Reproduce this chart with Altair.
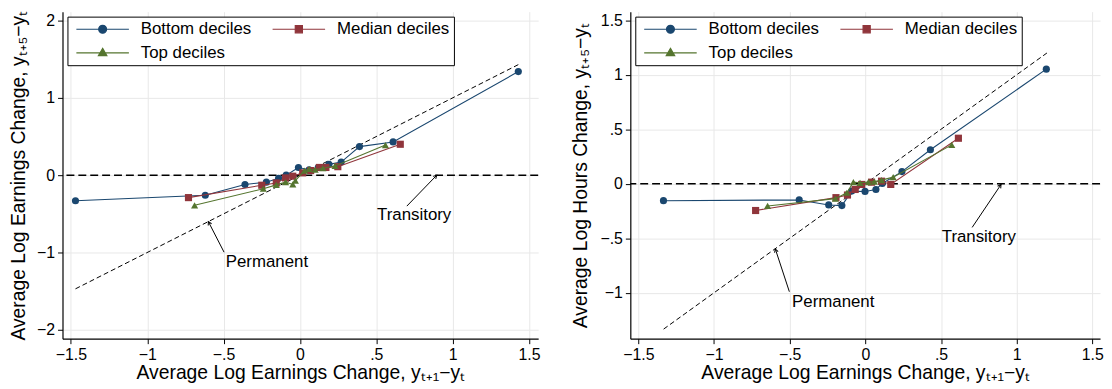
import math
import altair as alt
import pandas as pd

FONT = "Liberation Sans"
series_names = ["Bottom deciles", "Median deciles", "Top deciles"]
series_colors = ["#1a476f", "#90353b", "#55752f"]
series_shapes = ["circle", "square", "triangle-up"]

# ---- Left panel: earnings (x: 1-year change, y: 5-year change)
e_bot_x = [-1.47, -0.62, -0.36, -0.22, -0.14, -0.09, -0.01, 0.06, 0.12, 0.19, 0.27, 0.39, 0.61, 1.43]
e_bot_y = [-0.33, -0.26, -0.12, -0.09, -0.04, 0.00, 0.10, 0.07, 0.10, 0.14, 0.17, 0.37, 0.43, 1.34]
e_med_x = [-0.73, -0.25, -0.155, -0.094, -0.047, 0.018, 0.07, 0.127, 0.17, 0.248, 0.657]
e_med_y = [-0.29, -0.13, -0.10, -0.035, -0.013, 0.03, 0.06, 0.10, 0.10, 0.11, 0.40]
e_top_x = [-0.69, -0.24, -0.155, -0.094, -0.047, -0.03, 0.03, 0.06, 0.10, 0.15, 0.23, 0.56]
e_top_y = [-0.39, -0.175, -0.125, -0.09, -0.12, -0.07, 0.06, 0.08, 0.07, 0.09, 0.12, 0.39]

# ---- Right panel: hours
h_bot_x = [-1.334, -0.437, -0.242, -0.155, -0.09, -0.002, 0.07, 0.112, 0.242, 0.43, 1.196]
h_bot_y = [-0.155, -0.148, -0.194, -0.20, -0.067, -0.07, -0.052, 0.003, 0.112, 0.312, 1.052]
h_med_x = [-0.725, -0.194, -0.118, -0.067, -0.024, 0.041, 0.107, 0.168, 0.615]
h_med_y = [-0.245, -0.127, -0.103, -0.052, -0.006, 0.015, 0.024, -0.006, 0.418]
h_top_x = [-0.646, -0.198, -0.122, -0.079, -0.035, 0.02, 0.06, 0.107, 0.184, 0.571]
h_top_y = [-0.203, -0.136, -0.082, 0.015, 0.009, 0.015, 0.02, 0.034, 0.061, 0.357]

# axis ticks
x_ticks = [-1.5, -1, -0.5, 0, 0.5, 1, 1.5]
e_y_ticks = [-2, -1, 0, 1, 2]
h_y_ticks = [-1, -0.5, 0, 0.5, 1, 1.5]

# 45-degree (permanent) line extents
e_diag = [-1.47, 1.43]
h_diag = [-1.333, 1.2]

# annotations: [tail_x, tail_y, tip_x, tip_y]
e_perm_arrow = [-0.497, -0.996, -0.60, -0.60]
e_tran_arrow = [0.70, -0.40, 0.896, 0.0]
h_perm_arrow = [-0.502, -0.99, -0.595, -0.597]
h_tran_arrow = [0.706, -0.40, 0.897, -0.006]
e_perm_text = [-0.486, -1.12]
e_tran_text = [0.748, -0.51]
h_perm_text = [-0.484, -1.082]
h_tran_text = [0.75, -0.485]

LABEL_EXPR = "datum.value == 0 ? '0' : replace(format(datum.value, '~g'), '0.', '.')"

# legend symbols: line segment with marker in the middle
legend_paths = [
    "M-5.3,0L5.3,0M0.8,0A0.8,0.8,0,1,1,-0.8,0A0.8,0.8,0,1,1,0.8,0Z",
    "M-5.3,0L5.3,0M-0.72,-0.72L0.72,-0.72L0.72,0.72L-0.72,0.72Z",
    "M-5.3,0L5.3,0M0,-0.9L0.85,0.58L-0.85,0.58Z",
]

legend = alt.Legend(
    title=None, orient="top-left", offset=5, columns=2, direction="horizontal",
    labelFontSize=17, labelFont=FONT, labelColor="black",
    symbolSize=100, symbolOffset=23, labelOffset=30,
    columnPadding=16, rowPadding=6, padding=4,
    strokeColor="black", fillColor="white", symbolStrokeWidth=1.2,
)


def panel(series_xy, xdom, ydom, yticks, W, H, ytitle, ytitle_pad, diag,
          perm_arrow, tran_arrow, perm_text, tran_text):
    rows = []
    for name, (xs, ys) in zip(series_names, series_xy):
        for i, (a, b) in enumerate(zip(xs, ys)):
            rows.append({"x": a, "y": b, "s": name, "i": i})
    df = pd.DataFrame(rows)

    xsc = alt.Scale(domain=xdom, nice=False, zero=False)
    ysc = alt.Scale(domain=ydom, nice=False, zero=False)
    xax = alt.Axis(values=x_ticks, labelExpr=LABEL_EXPR,
                   title="Average Log Earnings Change, yₜ₊₁−yₜ")
    yax = alt.Axis(values=yticks, labelExpr=LABEL_EXPR, title=ytitle, titlePadding=ytitle_pad)
    X = lambda f: alt.X(f, type="quantitative", scale=xsc, axis=xax)
    Y = lambda f: alt.Y(f, type="quantitative", scale=ysc, axis=yax)
    col_scale = alt.Scale(domain=series_names, range=series_colors)

    zero = alt.Chart(pd.DataFrame({"y": [0.0]})).mark_rule(
        color="black", strokeDash=[8, 4], strokeWidth=1.4
    ).encode(y=Y("y"))

    ddf = pd.DataFrame({"x": diag, "y": diag})
    diag_line = alt.Chart(ddf).mark_line(
        color="black", strokeDash=[5, 3], strokeWidth=1
    ).encode(x=X("x"), y=Y("y"))

    adf = pd.DataFrame([perm_arrow, tran_arrow], columns=["x", "y", "x2", "y2"])
    sx = W / (xdom[1] - xdom[0])
    sy = H / (ydom[1] - ydom[0])
    angles = []
    for a in [perm_arrow, tran_arrow]:
        dx = (a[2] - a[0]) * sx
        dy = -(a[3] - a[1]) * sy
        angles.append(math.degrees(math.atan2(dx, -dy)) % 360)
    adf["angle"] = angles
    shafts = alt.Chart(adf).mark_rule(color="black", strokeWidth=1).encode(
        x=X("x"), y=Y("y"), x2="x2", y2="y2")
    heads = alt.Chart(adf).mark_point(
        shape="M-0.6,1.1L0,0L0.6,1.1", filled=False, color="black",
        strokeWidth=1, size=40, opacity=1
    ).encode(x=X("x2"), y=Y("y2"), angle=alt.Angle("angle:Q", scale=None))

    tdf = pd.DataFrame({"x": [perm_text[0]], "y": [perm_text[1]], "t": ["Permanent"]})
    tdf2 = pd.DataFrame({"x": [tran_text[0]], "y": [tran_text[1]], "t": ["Transitory"]})
    t1 = alt.Chart(tdf).mark_text(align="left", baseline="middle", fontSize=17,
                                  font=FONT, color="black").encode(x=X("x"), y=Y("y"), text="t")
    t2 = alt.Chart(tdf2).mark_text(align="center", baseline="middle", fontSize=17,
                                   font=FONT, color="black").encode(x=X("x"), y=Y("y"), text="t")

    base = alt.Chart(df)
    series_layers = []
    for name, colr, shp in zip(series_names, series_colors, series_shapes):
        sub = base.transform_filter(alt.datum.s == name)
        series_layers.append(
            sub.mark_line(strokeWidth=1.1, color=colr).encode(x=X("x"), y=Y("y"), order="i:Q")
        )
        series_layers.append(
            sub.mark_point(filled=True, size=52, opacity=1, shape=shp, color=colr).encode(
                x=X("x"), y=Y("y"))
        )
    # legend-only layer (no rows drawn): symbols are line + marker
    leg = base.transform_filter("datum.i < 0").mark_point(filled=True, opacity=1, strokeWidth=1.2).encode(
        x=X("x"), y=Y("y"),
        fill=alt.Fill("s:N", scale=col_scale, legend=legend),
        stroke=alt.Stroke("s:N", scale=col_scale, legend=legend),
        shape=alt.Shape("s:N", scale=alt.Scale(domain=series_names, range=legend_paths), legend=legend),
    )
    layered = alt.layer(zero, diag_line, shafts, heads, t1, t2, *series_layers, leg).properties(
        width=W, height=H)
    return layered


left = panel([(e_bot_x, e_bot_y), (e_med_x, e_med_y), (e_top_x, e_top_y)],
             [-1.555, 1.56], [-2.115, 2.115], e_y_ticks, 480, 330,
             "Average Log Earnings Change, yₜ₊₅−yₜ", 8,
             e_diag, e_perm_arrow, e_tran_arrow, e_perm_text, e_tran_text)
right = panel([(h_bot_x, h_bot_y), (h_med_x, h_med_y), (h_top_x, h_top_y)],
              [-1.553, 1.551], [-1.421, 1.579], h_y_ticks, 474, 330,
              "Average Log Hours Change, yₜ₊₅−yₜ", 10,
              h_diag, h_perm_arrow, h_tran_arrow, h_perm_text, h_tran_text)

chart = alt.hconcat(left, right, spacing=30).resolve_scale(
    fill="independent", stroke="independent", shape="independent"
).resolve_legend(shape="independent", fill="independent", stroke="independent").properties(
    padding={"left": 0, "top": 0, "right": 0, "bottom": 0}
).configure_view(stroke=None).configure_axis(
    labelFont=FONT, titleFont=FONT, labelFontSize=16, titleFontSize=19.5,
    labelColor="black", titleColor="black", titleFontWeight="normal",
    domainColor="black", domainWidth=1.2, tickColor="black", tickSize=5, tickWidth=1,
    gridColor="#e8e8e8", gridWidth=1, labelPadding=3,
).configure_axisX(titlePadding=1)

chart.save("out.html", embed_options={"renderer": "svg", "actions": False})
